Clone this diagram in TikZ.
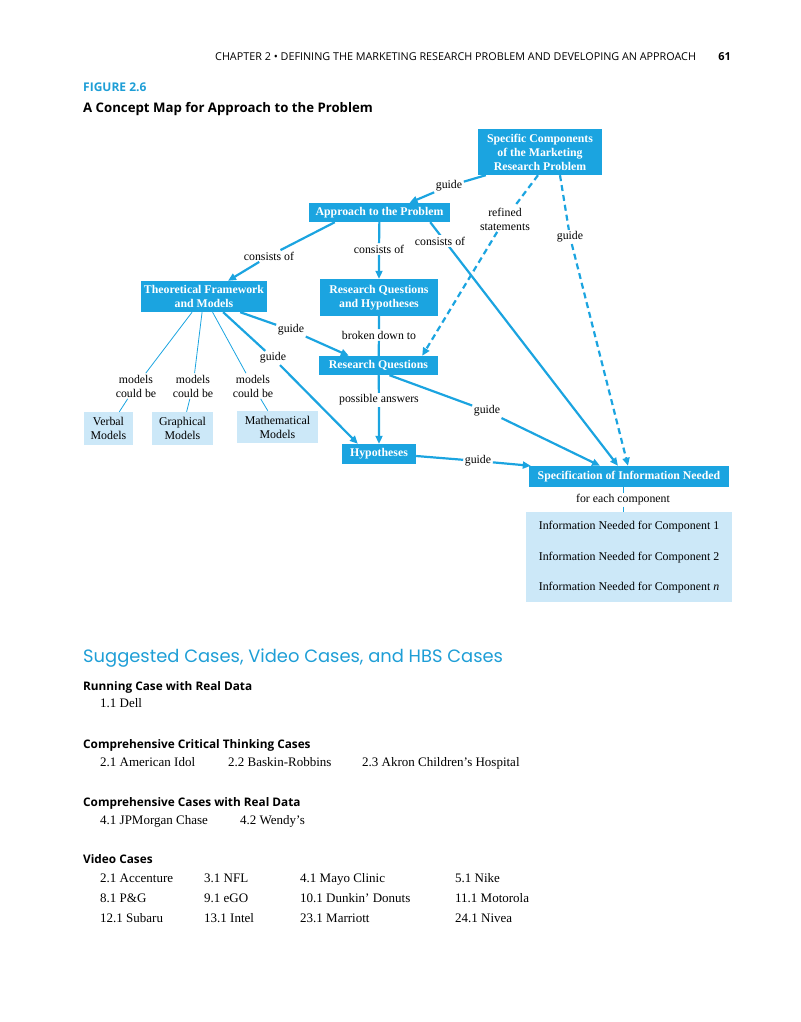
\documentclass[tikz,border=0pt]{standalone}
\usepackage{fontspec}
\setmainfont{Liberation Serif}
\newfontfamily\hsans{Open Sans}
\newfontfamily\geo{Poppins}
\usetikzlibrary{arrows.meta,calc}
\definecolor{cmblue}{RGB}{27,164,224}
\definecolor{cmlight}{RGB}{204,232,248}
\definecolor{headblue}{RGB}{30,158,214}
\begin{document}
\begin{tikzpicture}[x=1pt,y=-1pt,
  box/.style={fill=cmblue, text=white, font=\fontsize{11.8}{14}\selectfont\bfseries, align=center, inner sep=1.5pt},
  mbox/.style={fill=cmlight, font=\fontsize{11.9}{14}\selectfont, align=center, inner sep=1.5pt},
  itext/.style={font=\fontsize{11.9}{13}\selectfont, inner sep=1pt},
  lbl/.style={fill=white, font=\fontsize{11.8}{14}\selectfont, inner sep=1.5pt, align=center},
  conn/.style={draw=cmblue, line width=2.2pt, -{Triangle[length=8pt,width=7pt]}},
  dconn/.style={conn, dash pattern=on 6pt off 4pt},
  plainc/.style={draw=cmblue, line width=2.2pt},
  thinc/.style={draw=cmblue, line width=0.8pt},
  ctext/.style={anchor=base west, inner sep=0pt, font=\fontsize{13}{15}\selectfont},
  subhead/.style={anchor=base west, inner sep=0pt, font=\hsans\bfseries\fontsize{11.8}{14}\selectfont}
]
\useasboundingbox (0,0) rectangle (800,1022);

% header
\node[anchor=base west, inner sep=0pt, font=\hsans\fontsize{10.8}{12}\selectfont] (hdr) at (215,61) {CHAPTER 2 • DEFINING THE MARKETING RESEARCH PROBLEM AND DEVELOPING AN APPROACH};
\node[anchor=base east, inner sep=0pt, font=\hsans\bfseries\fontsize{11}{12}\selectfont] (pg) at (731,61) {61};
\node[anchor=base west, inner sep=0pt, text=headblue, font=\hsans\bfseries\fontsize{12}{14}\selectfont] (fig) at (83,92) {FIGURE 2.6};
\node[anchor=base west, inner sep=0pt, font=\hsans\bfseries\fontsize{13.2}{15}\selectfont] (ttl) at (83,113) {A Concept Map for Approach to the Problem};

% boxes
\node[box, minimum width=124pt, minimum height=46pt] (sc) at (540,152) {Specific Components\\of the Marketing\\Research Problem};
\node[box, minimum width=141pt, minimum height=19pt] (ap) at (379.5,212.5) {Approach to the Problem};
\node[box, minimum width=126pt, minimum height=31pt] (tf) at (204,296.5) {Theoretical Framework\\and Models};
\node[box, minimum width=118pt, minimum height=37pt] (rqh) at (379,297.5) {Research Questions\\and Hypotheses};
\node[box, minimum width=119pt, minimum height=19pt] (rq) at (378.5,365.5) {Research Questions};
\node[box, minimum width=74pt, minimum height=20pt] (hyp) at (379,454) {Hypotheses};
\node[box, minimum width=200pt, minimum height=21pt] (si) at (629,476.5) {Specification of Information Needed};
\node[mbox, minimum width=206pt, minimum height=90pt] (ib) at (629,557) {};
\node[itext] (i1) at (629,527) {Information Needed for Component 1};
\node[itext] (i2) at (629,558) {Information Needed for Component 2};
\node[itext] (i3) at (629,588) {Information Needed for Component \textit{n}};
\node[mbox, minimum width=49pt, minimum height=33pt] (vm) at (108.5,428.5) {Verbal\\Models};
\node[mbox, minimum width=61pt, minimum height=33pt] (gm) at (182.5,428.5) {Graphical\\Models};
\node[mbox, minimum width=81pt, minimum height=32pt] (mm) at (277.5,427) {Mathematical\\Models};

% labels
\node[lbl] (lg1) at (449,186) {guide};
\node[lbl] (lco1) at (269,256) {consists of};
\node[lbl] (lco2) at (379,249) {consists of};
\node[lbl] (lrs) at (505,219) {refined\\statements};
\node[lbl] (lg2) at (570,237) {guide};
\node[lbl] (lbd) at (379,335) {broken down to};
\node[lbl] (lpa) at (379,400) {possible answers};
\node[lbl] (lg3) at (291,330) {guide};
\node[lbl] (lg4) at (273,358) {guide};
\node[lbl] (lm1) at (136,386) {models\\could be};
\node[lbl] (lm2) at (193,386) {models\\could be};
\node[lbl] (lm3) at (253,386) {models\\could be};
\node[lbl] (lg5) at (487,411) {guide};
\node[lbl] (lg6) at (478,461) {guide};
\node[lbl, inner sep=1pt] (lfe) at (623,500) {for each component};

% connectors
\draw[conn] ($(sc.south west)+(8,0)$) -- (lg1) -- ($(ap.north)+(30,0)$);
\draw[conn] ($(ap.south west)+(26,0)$) -- (lco1) -- ($(tf.north)+(24,0)$);
\draw[conn] (ap) -- (lco2) -- (rqh);
\draw[conn] ($(ap.south east)+(-20,0)$) -- ($(si.north)+(-11,0)$);
\node[lbl] (lco3) at (440,241) {consists of};
\draw[dconn] ($(sc.south)+(-2,0)$) -- (lrs) -- ($(rq.north east)+(-16,0)$);
\draw[dconn] ($(sc.south)+(20,0)$) -- (lg2) -- ($(si.north)+(-1,0)$);
\draw[plainc] (rqh) -- (lbd) -- (rq);
\draw[conn] (rq) -- (lpa) -- (hyp);
\draw[conn] ($(tf.south east)+(-27,0)$) -- (lg3) -- ($(rq.north west)+(30,0)$);
\draw[conn] ($(tf.south east)+(-44,0)$) -- (lg4) -- ($(hyp.north west)+(16,0)$);
\draw[thinc] (tf) -- (lm1) -- (vm);
\draw[thinc] (tf) -- (lm2) -- (gm);
\draw[thinc] (tf) -- (lm3) -- (mm);
\draw[conn] ($(rq.south)+(11,0)$) -- (lg5) -- ($(si.north)+(-29,0)$);
\draw[conn] ($(hyp.east)+(0,2)$) -- (lg6) -- ($(si.north west)+(2,0)$);
\draw[thinc] ($(si.south)+(-6,0)$) -- (lfe) -- ($(ib.north)+(-6,0)$);

% cases
\node[anchor=base west, inner sep=0pt, text=headblue, font=\geo\fontsize{17.9}{21}\selectfont] (hd) at (83,662) {Suggested Cases, Video Cases, and HBS Cases};
\node[subhead] (s1) at (83,690) {Running Case with Real Data};
\node[ctext] (c11) at (100,707) {1.1 Dell};
\node[subhead] (s2) at (83,748) {Comprehensive Critical Thinking Cases};
\node[ctext] (c21) at (100,766) {2.1 American Idol};
\node[ctext] (c22) at (228,766) {2.2 Baskin-Robbins};
\node[ctext] (c23) at (362,766) {2.3 Akron Children’s Hospital};
\node[subhead] (s3) at (83,806) {Comprehensive Cases with Real Data};
\node[ctext] (c41) at (100,824) {4.1 JPMorgan Chase};
\node[ctext] (c42) at (240,824) {4.2 Wendy’s};
\node[subhead] (s4) at (83,863) {Video Cases};
\node[ctext] (v1) at (100,882) {2.1 Accenture};
\node[ctext] (v2) at (204,882) {3.1 NFL};
\node[ctext] (v3) at (300,882) {4.1 Mayo Clinic};
\node[ctext] (v4) at (455,882) {5.1 Nike};
\node[ctext] (v5) at (100,902) {8.1 P\&G};
\node[ctext] (v6) at (204,902) {9.1 eGO};
\node[ctext] (v7) at (300,902) {10.1 Dunkin’ Donuts};
\node[ctext] (v8) at (455,902) {11.1 Motorola};
\node[ctext] (v9) at (100,922) {12.1 Subaru};
\node[ctext] (v10) at (204,922) {13.1 Intel};
\node[ctext] (v11) at (300,922) {23.1 Marriott};
\node[ctext] (v12) at (455,922) {24.1 Nivea};
\end{tikzpicture}
\end{document}
